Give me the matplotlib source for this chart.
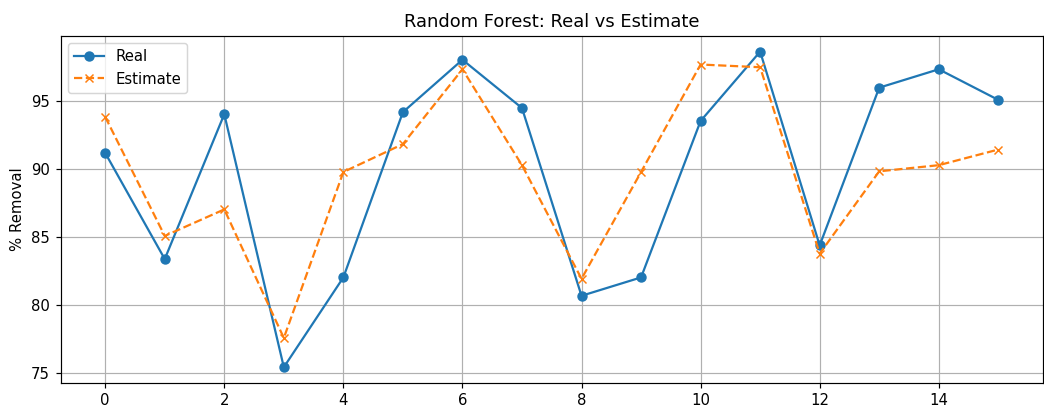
import numpy as np
import matplotlib
matplotlib.use('Agg')
import matplotlib.pyplot as plt

# readings from the reference chart
sample_idx = np.arange(16)
real = [91.2, 83.4, 94.05, 75.45, 82.05, 94.2, 98.05, 94.5,
        80.7, 82.05, 93.55, 98.65, 84.4, 96.0, 97.35, 95.1]
estimate = [93.85, 85.1, 87.05, 77.6, 89.8, 91.85, 97.35, 90.3,
            81.95, 89.8, 97.7, 97.5, 83.8, 89.85, 90.3, 91.45]

DPI = 107  # reference text/marks are slightly larger than at dpi 100


def plot_real_vs_estimate():
    fig = plt.figure(figsize=(1044 / DPI, 407 / DPI), dpi=DPI)
    ax = fig.add_axes([0.058, 0.059, 0.941, 0.853])

    ax.plot(sample_idx, real, marker='o', label='Real')
    ax.plot(sample_idx, estimate, marker='x', linestyle='--', label='Estimate')

    ax.set_title('Random Forest: Real vs Estimate')
    ax.set_ylabel('% Removal')
    ax.legend(loc='upper left')
    ax.grid(True)

    fig.savefig('out.png', dpi=DPI)


if __name__ == '__main__':
    plot_real_vs_estimate()
